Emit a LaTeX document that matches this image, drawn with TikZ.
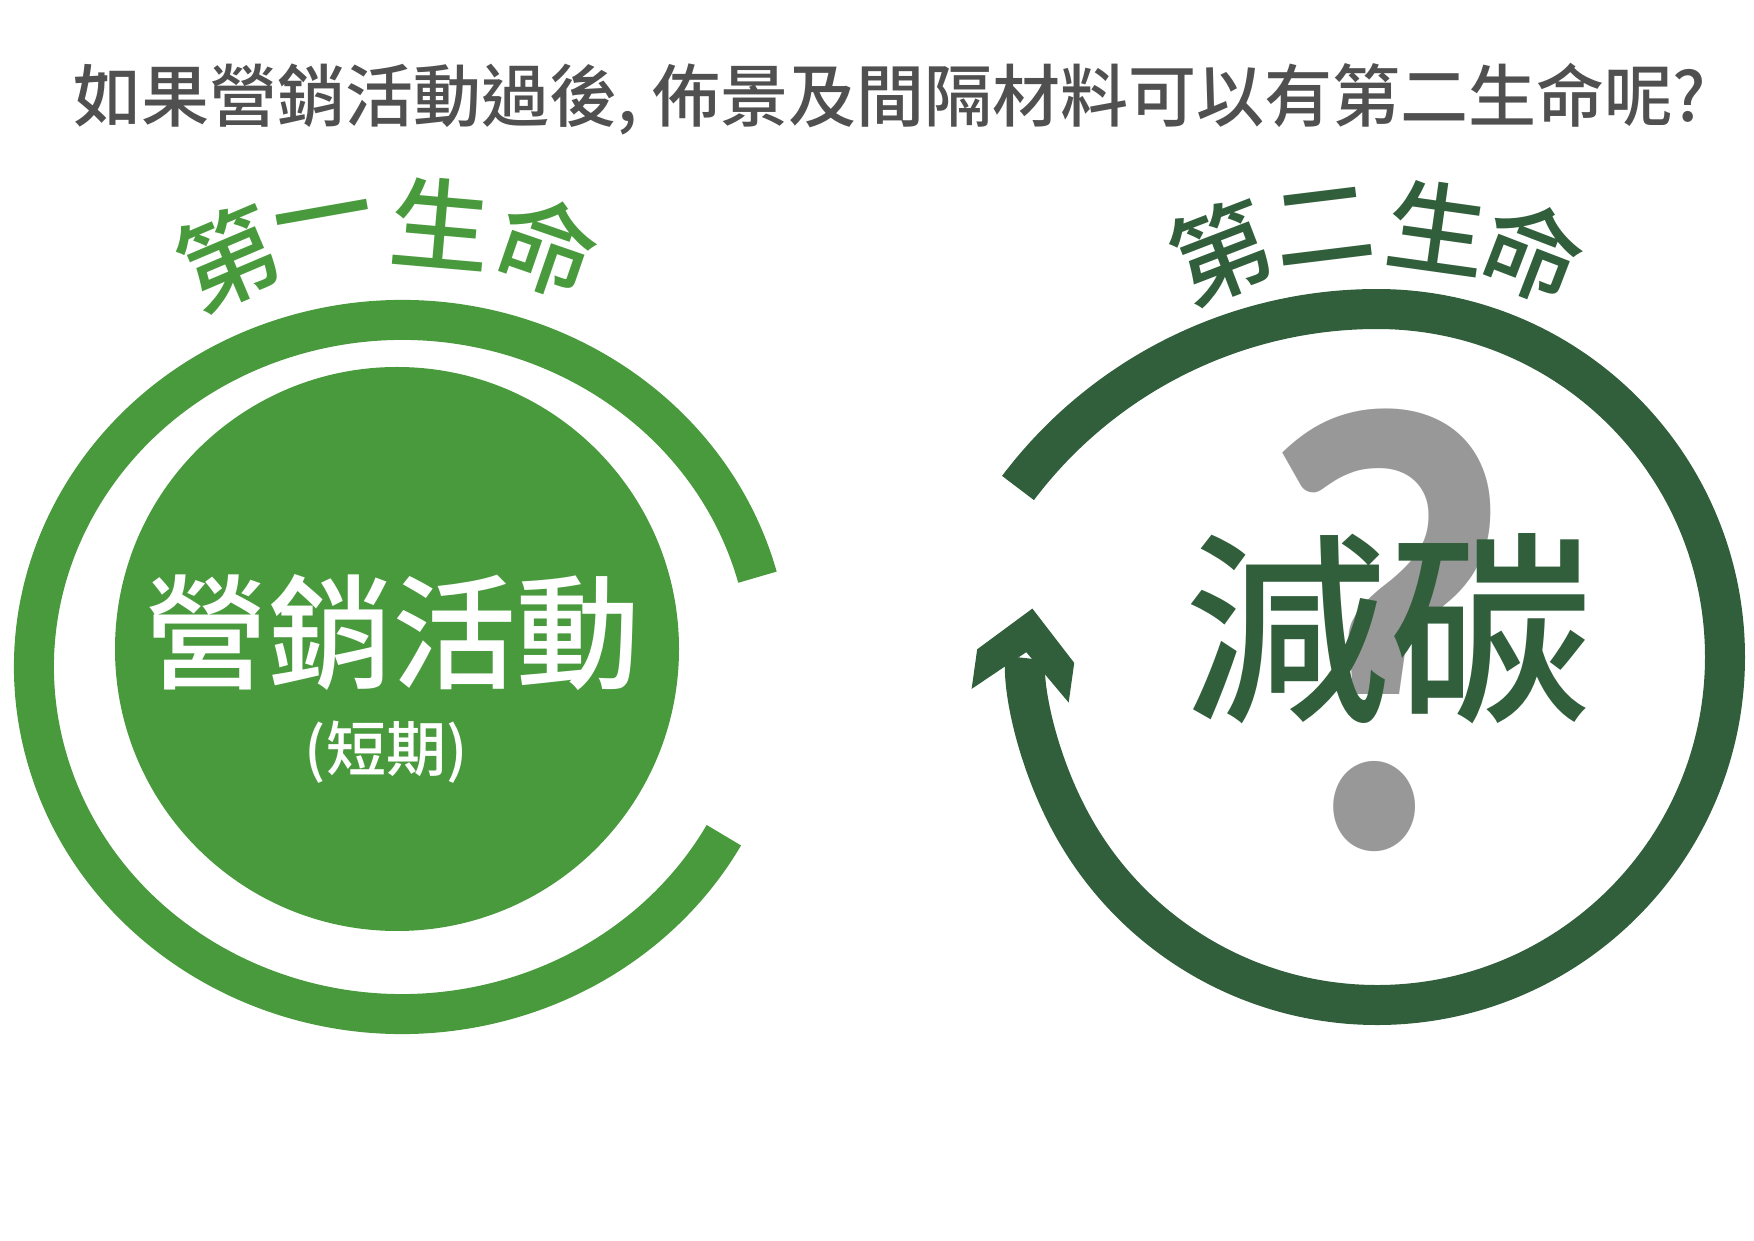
\documentclass[tikz,border=0pt]{standalone}
\usepackage{fontspec}
\newfontfamily\cjk{Noto Sans CJK TC}
\IfFontExistsTF{Noto Sans CJK TC Medium}
	{\newfontfamily\cjkmid{Noto Sans CJK TC Medium}}
	{\newfontfamily\cjkmid{Noto Sans CJK TC}[FakeBold=1]}
\newfontfamily\qfont{Lato}
\usetikzlibrary{arrows.meta,calc}
\definecolor{titleGray}{RGB}{80,80,80}
\definecolor{lifeGreen}{RGB}{72,154,60}
\definecolor{darkGreen}{RGB}{49,94,59}
\definecolor{qGray}{RGB}{152,152,152}

% chunky head of the second life ring
\pgfdeclarearrow{
	name = RingHead,
	setup code = {
		\pgfarrowssettipend{0pt}
		\pgfarrowssetlineend{-50pt}
		\pgfarrowssetbackend{-88pt}
		\pgfarrowshullpoint{0pt}{0pt}
		\pgfarrowshullpoint{-88pt}{49pt}
		\pgfarrowshullpoint{-88pt}{-49pt}
	},
	drawing code = {
		\pgfpathmoveto{\pgfqpoint{0pt}{0pt}}
		\pgfpathlineto{\pgfqpoint{-48pt}{49pt}}
		\pgfpathlineto{\pgfqpoint{-88pt}{49pt}}
		\pgfpathlineto{\pgfqpoint{-44pt}{0pt}}
		\pgfpathlineto{\pgfqpoint{-88pt}{-49pt}}
		\pgfpathlineto{\pgfqpoint{-48pt}{-49pt}}
		\pgfpathclose
		\pgfusepathqfill
	}
}

\begin{document}
\begin{tikzpicture}[x=1pt,y=1pt]
	\useasboundingbox (0,0) rectangle (1754,1240);
	
	\tikzstyle{ring}=[line width=40pt]
	
	\tikzstyle{arcChar}=[font=\cjkmid\fontsize{100pt}{100pt}\selectfont,inner sep=0pt]
	
	\node[text=titleGray,font=\cjkmid\fontsize{68pt}{68pt}\selectfont](title) at (890,1141){如果營銷活動過後, 佈景及間隔材料可以有第二生命呢?};
	
	% first life
	\coordinate(firstC) at (402,573);
	\node[circle,fill=lifeGreen,minimum size=564pt,inner sep=0pt](firstDisc) at (397,591){};
	\draw[ring,lifeGreen] (firstC) ++(15:368 and 347) arc[start angle=15,end angle=331,x radius=368,y radius=347];
	
	\foreach \a/\ch [count=\i] in {113/第,100/一,85/生,71/命}
		\node[arcChar,text=lifeGreen,rotate=\a-90](firstLabel\i) at ($(firstC)+(\a:445)$){\ch};
	
	\node[text=white,font=\cjkmid\fontsize{124pt}{124pt}\selectfont](firstName) at (392,607){營銷活動};
	\node[text=white,font=\cjkmid\fontsize{60pt}{60pt}\selectfont](firstTerm) at (386,488){(短期)};
	
	% second life
	\coordinate(secondC) at (1377,583);
	\coordinate(secondTail) at (1018,752);
	\node[text=qGray,font=\qfont\bfseries\fontsize{600pt}{600pt}\selectfont,xscale=0.9,inner sep=0pt,anchor=base](question) at (1388,392){?};
	\node[text=darkGreen,font=\cjkmid\fontsize{205pt}{205pt}\selectfont](carbon) at (1389,611){減碳};
	
	\draw[ring,darkGreen,-RingHead] (secondTail) arc[start angle=143,end angle=90,radius=449.5] arc[start angle=90,end angle=-188,radius=348];
	
	\foreach \a/\ch [count=\i] in {111/第,97/二,82/生,69/命}
		\node[arcChar,text=darkGreen,rotate=\a-90](secondLabel\i) at ($(secondC)+(\a:434)$){\ch};
	
\end{tikzpicture}
\end{document}
